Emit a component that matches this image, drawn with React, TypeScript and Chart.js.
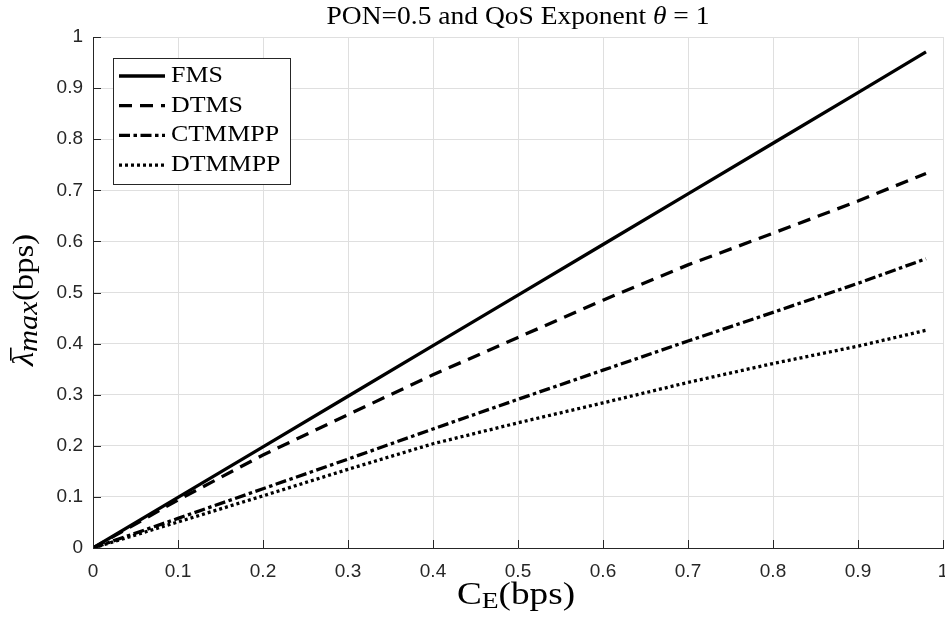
import React, { useEffect, useRef } from 'react';
import { Chart, registerables } from 'chart.js';

Chart.register(...registerables);

// ---- data ----
const xValues = [0, 0.1, 0.2, 0.3, 0.4, 0.5, 0.6, 0.7, 0.8, 0.9, 0.98];
const fmsValues = [0, 0.099, 0.198, 0.297, 0.396, 0.495, 0.594, 0.693, 0.792, 0.891, 0.971];
const dtmsValues = [0, 0.094, 0.182, 0.261, 0.339, 0.412, 0.485, 0.554, 0.616, 0.679, 0.733];
const ctmmppValues = [0, 0.058, 0.116, 0.174, 0.233, 0.291, 0.348, 0.405, 0.461, 0.518, 0.566];
const dtmmppValues = [0, 0.051, 0.102, 0.154, 0.204, 0.245, 0.284, 0.324, 0.361, 0.395, 0.426];
const seriesNames = ['FMS', 'DTMS', 'CTMMPP', 'DTMMPP'];
const tickValues = [0, 0.1, 0.2, 0.3, 0.4, 0.5, 0.6, 0.7, 0.8, 0.9, 1];
const tickLabels = ['0', '0.1', '0.2', '0.3', '0.4', '0.5', '0.6', '0.7', '0.8', '0.9', '1'];

// ---- styles ----
const seriesDashes: number[][] = [[], [13, 8], [11, 3.5, 3.5, 3.5], [3, 3]];
const SERIF = "'Liberation Serif', 'Times New Roman', serif";
const SANS = "'Liberation Sans', Arial, Helvetica, sans-serif";
const AXIS_COLOR = '#262626';
const GRID_COLOR = '#dfdfdf';
const LINE_WIDTH = 3.3;

type Run = { text: string; font: string; dy?: number; overline?: boolean };

function drawRuns(ctx: CanvasRenderingContext2D, runs: Run[], cx: number, baseY: number, hScale: number) {
  ctx.save();
  ctx.textBaseline = 'alphabetic';
  ctx.textAlign = 'left';
  ctx.fillStyle = '#000';
  let total = 0;
  const widths = runs.map((r) => {
    ctx.font = r.font;
    const w = ctx.measureText(r.text).width;
    total += w;
    return w;
  });
  ctx.translate(cx, baseY);
  ctx.scale(hScale, 1);
  let x = -total / 2;
  runs.forEach((r, i) => {
    ctx.font = r.font;
    ctx.fillText(r.text, x, r.dy || 0);
    if (r.overline) {
      ctx.fillRect(x + 5, -23, 12, 1.6);
    }
    x += widths[i];
  });
  ctx.restore();
}

const overlayPlugin = {
  id: 'overlay',
  afterDraw(chart: any) {
    const ctx: CanvasRenderingContext2D = chart.ctx;
    const { left, right, top, bottom } = chart.chartArea;
    const xs = chart.scales.x;
    const ys = chart.scales.y;
    ctx.save();

    // inward tick marks
    ctx.strokeStyle = AXIS_COLOR;
    ctx.lineWidth = 1;
    ctx.beginPath();
    tickValues.forEach((v) => {
      const px = Math.round(xs.getPixelForValue(v)) + 0.5;
      ctx.moveTo(px, bottom);
      ctx.lineTo(px, bottom - 8);
      const py = Math.round(ys.getPixelForValue(v)) + 0.5;
      ctx.moveTo(left, py);
      ctx.lineTo(left + 8, py);
    });
    ctx.stroke();

    const cx = (left + right) / 2;

    // title
    drawRuns(
      ctx,
      [
        { text: 'PON=0.5 and QoS Exponent ', font: `25px ${SERIF}` },
        { text: 'θ', font: `italic 25px ${SERIF}` },
        { text: ' = 1', font: `25px ${SERIF}` },
      ],
      cx,
      24,
      1.1
    );

    // x label
    drawRuns(
      ctx,
      [
        { text: 'C', font: `31px ${SERIF}` },
        { text: 'E', font: `23px ${SERIF}`, dy: 4 },
        { text: '(bps)', font: `31px ${SERIF}` },
      ],
      cx - 2,
      604,
      1.2
    );

    // y label (rotated)
    ctx.save();
    ctx.translate(33, 300);
    ctx.rotate(-Math.PI / 2);
    drawRuns(
      ctx,
      [
        { text: 'λ', font: `italic 30px ${SERIF}`, overline: true },
        { text: 'max', font: `italic 28px ${SERIF}`, dy: 4 },
        { text: '(bps)', font: `30px ${SERIF}` },
      ],
      0,
      0,
      1.09
    );
    ctx.restore();

    // legend
    const lx = left + 20;
    const ly = top + 21;
    const lw = 177;
    const lh = 126;
    ctx.fillStyle = '#ffffff';
    ctx.fillRect(lx, ly, lw, lh);
    ctx.strokeStyle = AXIS_COLOR;
    ctx.lineWidth = 1;
    ctx.strokeRect(lx + 0.5, ly + 0.5, lw, lh);
    chart.data.datasets.forEach((ds: any, i: number) => {
      const yLine = ly + 18 + i * 29.7;
      ctx.save();
      ctx.strokeStyle = '#000';
      ctx.lineWidth = LINE_WIDTH;
      ctx.lineCap = 'butt';
      ctx.setLineDash(ds.borderDash || []);
      ctx.beginPath();
      ctx.moveTo(lx + 6, yLine);
      ctx.lineTo(lx + 52, yLine);
      ctx.stroke();
      ctx.restore();
      ctx.save();
      ctx.fillStyle = '#000';
      ctx.font = `24px ${SERIF}`;
      ctx.textBaseline = 'alphabetic';
      ctx.textAlign = 'left';
      ctx.translate(lx + 58, yLine + 6);
      ctx.scale(1.08, 1);
      ctx.fillText(ds.label, 0, 0);
      ctx.restore();
    });

    ctx.restore();
  },
};

export default function App() {
  const canvasRef = useRef<HTMLCanvasElement | null>(null);

  useEffect(() => {
    document.body.style.margin = '0';
    const canvas = canvasRef.current;
    if (!canvas) return;
    const seriesValues = [fmsValues, dtmsValues, ctmmppValues, dtmmppValues];
    const chart = new Chart(canvas, {
      type: 'line',
      data: {
        datasets: seriesValues.map((vals, i) => ({
          label: seriesNames[i],
          data: xValues.map((x, j) => ({ x, y: vals[j] })),
          borderColor: '#000000',
          backgroundColor: '#000000',
          borderWidth: LINE_WIDTH,
          borderDash: seriesDashes[i],
          borderCapStyle: 'butt',
          pointRadius: 0,
          tension: 0,
          fill: false,
        })),
      },
      options: {
        responsive: false,
        animation: false,
        layout: { padding: { left: 0, top: 37, right: 2, bottom: 0 } },
        plugins: {
          legend: { display: false },
          title: { display: false },
          tooltip: { enabled: false },
        },
        scales: {
          x: {
            type: 'linear',
            min: 0,
            max: 1,
            afterFit: (s: any) => {
              s.height = 74;
              s.paddingLeft = 0;
              s.paddingRight = 0;
            },
            ticks: {
              stepSize: 0.1,
              autoSkip: false,
              maxRotation: 0,
              padding: 12,
              color: AXIS_COLOR,
              font: { family: SANS, size: 19 },
              callback: (_v: any, index: number) => tickLabels[index],
            },
            grid: { color: GRID_COLOR, lineWidth: 1, drawTicks: false },
            border: { display: true, color: AXIS_COLOR, width: 1 },
          },
          y: {
            type: 'linear',
            min: 0,
            max: 1,
            afterFit: (s: any) => {
              s.width = 93;
              s.paddingTop = 0;
              s.paddingBottom = 0;
            },
            ticks: {
              stepSize: 0.1,
              autoSkip: false,
              padding: 10,
              color: AXIS_COLOR,
              font: { family: SANS, size: 19 },
              callback: (_v: any, index: number) => tickLabels[index],
            },
            grid: { color: GRID_COLOR, lineWidth: 1, drawTicks: false },
            border: { display: true, color: AXIS_COLOR, width: 1 },
          },
        },
      },
      plugins: [overlayPlugin],
    } as any);
    return () => chart.destroy();
  }, []);

  return (
    <div style={{ position: 'absolute', left: 0, top: 0, width: 945, height: 622, background: '#fff' }}>
      <canvas ref={canvasRef} width={945} height={622} />
    </div>
  );
}
